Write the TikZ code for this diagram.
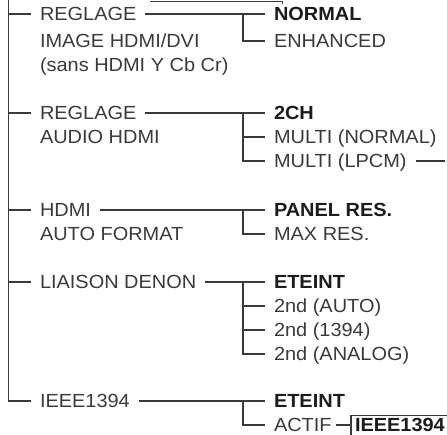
\documentclass[tikz,border=0pt]{standalone}
\usepackage{fontspec}
\setmainfont[FakeStretch=1.05]{Liberation Sans}
\usetikzlibrary{positioning, calc}
\definecolor{ink}{HTML}{3A3A3A}
\definecolor{inkdark}{HTML}{1C1C1C}

\begin{document}
\begin{tikzpicture}[x=1pt, y=-1pt,
    item/.style={anchor=west, inner sep=0pt, outer xsep=9pt, text height=13.6pt,
      text depth=0pt, font=\fontsize{19}{24}\selectfont, text=ink},
    sel/.style={item, font=\fontsize{19}{24}\selectfont\bfseries, text=inkdark},
    wire/.style={draw=ink, line width=1.1pt}]
  \useasboundingbox (0,0) rectangle (447,435);

  % Menu entries (left column)
  \node[item] (reglA)  at (31,14)  {REGLAGE};
  \node[item] (reglAb) at (31,41)  {IMAGE HDMI/DVI};
  \node[item] (reglAc) at (31,65)  {(sans HDMI Y Cb Cr)};
  \node[item] (reglB)  at (31,113) {REGLAGE};
  \node[item] (reglBb) at (31,137) {AUDIO HDMI};
  \node[item] (hdmi)   at (31,210) {HDMI};
  \node[item] (hdmib)  at (31,234) {AUTO FORMAT};
  \node[item] (denon)  at (31,282) {LIAISON DENON};
  \node[item] (ieee)   at (31,401) {IEEE1394};

  % Settings (right column)
  \node[sel]  (normal)   at (265,14)  {NORMAL};
  \node[item] (enhanced) at (265,41)  {ENHANCED};
  \node[sel]  (twoch)    at (265,113) {2CH};
  \node[item] (multiN)   at (265,137) {MULTI (NORMAL)};
  \node[item] (multiL)   at (265,161) {MULTI (LPCM)};
  \node[sel]  (panel)    at (265,210) {PANEL RES.};
  \node[item] (maxres)   at (265,234) {MAX RES.};
  \node[sel]  (eteA)     at (265,282) {ETEINT};
  \node[item] (autoB)    at (265,306) {2nd (AUTO)};
  \node[item] (fireB)    at (265,330) {2nd (1394)};
  \node[item] (analogB)  at (265,354) {2nd (ANALOG)};
  \node[sel]  (eteB)     at (265,401) {ETEINT};
  \node[item] (actif)    at (265,425) {ACTIF};

  % Boxed entry, cut by the lower edge
  \node[sel, outer sep=0pt, inner xsep=4pt, inner ysep=3pt] (ieeebox) at (351,425) {IEEE1394};

  % Lines coming from outside the picture
  \coordinate (spineTop) at (8.5,0);
  \coordinate (prevA) at (150,1.5);
  \coordinate (prevB) at (282.5,1.5);
  \coordinate (lpcmEnd) at (445,161);

  \draw[wire] (prevA) -- (prevB) -- ++(0,3);

  % Main spine
  \draw[wire] (spineTop) -- (spineTop |- ieee.west) -- (ieee.west);
  \foreach \n in {reglA, reglB, hdmi, denon}
    \draw[wire] (spineTop |- \n.west) -- (\n.west);

  % Entry to first setting
  \draw[wire] (reglA.east) -- (normal.west);
  \draw[wire] (reglB.east) -- (twoch.west);
  \draw[wire] (hdmi.east)  -- (panel.west);
  \draw[wire] (denon.east) -- (eteA.west);
  \draw[wire] (ieee.east)  -- (eteB.west);

  % Forks
  \draw[wire] ([xshift=-22pt]normal.west) |- (enhanced.west);
  \draw[wire] ([xshift=-22pt]twoch.west)  |- (multiL.west);
  \draw[wire] ([xshift=-22pt]multiN.west) -- (multiN.west);
  \draw[wire] ([xshift=-22pt]panel.west)  |- (maxres.west);
  \draw[wire] ([xshift=-22pt]eteA.west)   |- (analogB.west);
  \foreach \n in {autoB, fireB}
    \draw[wire] ([xshift=-22pt]\n.west) -- (\n.west);
  \draw[wire] ([xshift=-22pt]eteB.west)   |- (actif.west);

  % Tails
  \draw[wire] (multiL.east) -- (lpcmEnd);
  \draw[wire] ([xshift=-5pt]actif.east) -- (ieeebox.west);
  \draw[wire] (ieeebox.south west) -- (ieeebox.north west) -- (ieeebox.north east);
\end{tikzpicture}
\end{document}
